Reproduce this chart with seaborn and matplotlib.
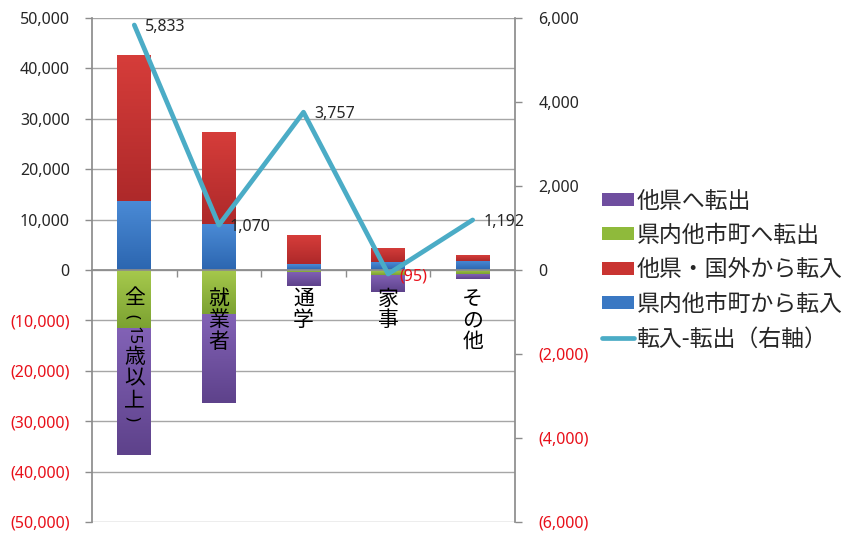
import re
import numpy as np
import seaborn as sns
import matplotlib
matplotlib.use("Agg")
import matplotlib.pyplot as plt
from matplotlib.colors import LinearSegmentedColormap

# ---- data -------------------------------------------------------------
categories = ["全（15歳以上）", "就業者", "通学", "家事", "その他"]

out_to_other_pref = [25267, 17530, 2793, 3495, 958]      # 他県へ転出
out_within_pref = [11500, 8800, 300, 900, 850]           # 県内他市町へ転出
in_from_other_pref = [29000, 18300, 5700, 2800, 1150]    # 他県・国外から転入
in_within_pref = [13600, 9100, 1150, 1500, 1850]         # 県内他市町から転入
net_migration = [5833, 1070, 3757, -95, 1192]            # 転入-転出（右軸）

series_labels = ["他県へ転出", "県内他市町へ転出", "他県・国外から転入",
                 "県内他市町から転入", "転入-転出（右軸）"]

left_ticks = list(range(-50000, 50001, 10000))
right_ticks = list(range(-6000, 6001, 2000))

# ---- style ------------------------------------------------------------
PURPLE = ("#6F4E9F", "#8262B6", "#5E428B")   # base, light top, dark bottom
GREEN = ("#8FBA3B", "#A6C94C", "#7CA232")
RED = ("#C93431", "#D63D3A", "#AE292A")
BLUE = ("#3A78C3", "#4A8AD5", "#2C66B0")
TEAL = "#4BACC6"
GRID = "#A6A6A6"
SPINE = "#8C8C8C"
NEG_RED = "#E8101A"
TEXT = "#262626"

sns.set_theme(style="white")
plt.rcParams["font.family"] = ["Noto Sans", "Noto Sans CJK JP", "DejaVu Sans"]
JP = ["Noto Sans CJK JP", "DejaVu Sans"]
LATIN = ["Noto Sans", "DejaVu Sans"]


def fmt(v):
    return f"{v:,}" if v >= 0 else f"({-v:,})"


fig = plt.figure(figsize=(8.45, 5.33), dpi=100)
ax = fig.add_axes([92 / 845, 11 / 533, 423 / 845, 504 / 533])
ax2 = ax.twinx()

# ---- stacked bars (drawn as overlapping cumulative totals) -----------
pos_total = np.add(in_within_pref, in_from_other_pref)
neg_total = -np.add(out_within_pref, out_to_other_pref)
neg_within = -np.asarray(out_within_pref)
zeros = np.zeros(len(categories))

layers = [  # (heights, colours, label, visible segment bottom, top)
    (pos_total, RED, series_labels[2], np.asarray(in_within_pref), pos_total),
    (in_within_pref, BLUE, series_labels[3], zeros, np.asarray(in_within_pref)),
    (neg_total, PURPLE, series_labels[0], neg_total, neg_within),
    (neg_within, GREEN, series_labels[1], neg_within, zeros),
]

bar_kw = dict(width=0.4, saturation=1, ax=ax, errorbar=None,
              edgecolor="none", linewidth=0, zorder=2)
containers = []
for heights, cols, label, _, _ in layers:
    sns.barplot(x=categories, y=heights, color=cols[0], label=label, **bar_kw)
    containers.append(ax.containers[-1])

# soft vertical shading on each visible segment
grad = np.linspace(0, 1, 64).reshape(-1, 1)
for container, (_, cols, _, seg_lo, seg_hi) in zip(containers, layers):
    cmap = LinearSegmentedColormap.from_list("shade", [cols[2], cols[1]])
    for patch, lo, hi in zip(container.patches, seg_lo, seg_hi):
        if hi <= lo:
            continue
        x0 = patch.get_x()
        im = ax.imshow(grad, cmap=cmap, origin="lower", aspect="auto",
                       extent=(x0, x0 + patch.get_width(), lo, hi),
                       interpolation="bilinear", zorder=2.1)
        im.set_clip_path(patch)

# ---- net migration line on the secondary axis ------------------------
xpos = np.arange(len(categories))
sns.lineplot(x=xpos, y=net_migration, ax=ax2, color=TEAL, lw=3.4,
             label=series_labels[4], zorder=3)
for lg in (ax.get_legend(), ax2.get_legend()):
    if lg is not None:
        lg.remove()

for x, v in zip(xpos, net_migration):
    ax2.annotate(fmt(v), xy=(x, v), xytext=(8, -1.5), textcoords="offset points",
                 ha="left", va="center", fontsize=11.5,
                 color=NEG_RED if v < 0 else TEXT)

# ---- axes ---------------------------------------------------------------
ax.set_xlim(-0.5, len(categories) - 0.5)
ax.set_ylim(left_ticks[0], left_ticks[-1])
ax2.set_ylim(right_ticks[0], right_ticks[-1])
ax.set_xlabel("")
ax.set_ylabel("")
ax2.set_xlabel("")
ax2.set_ylabel("")

ax.set_yticks(left_ticks)
ax.set_yticklabels([fmt(v) for v in left_ticks])
for lab, v in zip(ax.get_yticklabels(), left_ticks):
    lab.set_color(NEG_RED if v < 0 else TEXT)
ax2.set_yticks(right_ticks)
ax2.set_yticklabels([fmt(v) for v in right_ticks])
for lab, v in zip(ax2.get_yticklabels(), right_ticks):
    lab.set_color(NEG_RED if v < 0 else TEXT)

ax.tick_params(axis="y", direction="out", length=5, width=1, color=SPINE,
               pad=11, labelsize=11.5, left=True)
ax2.tick_params(axis="y", direction="out", length=5, width=1, color=SPINE,
                pad=12, labelsize=11.5, right=True)

ax.yaxis.grid(True, color=GRID, lw=1)
ax.xaxis.grid(False)
ax.set_axisbelow(True)

# category axis sits on the zero line, with ticks between the categories
ax.spines["bottom"].set_position(("data", 0))
ax.spines["bottom"].set_color(SPINE)
ax.spines["left"].set_color(SPINE)
ax.spines["top"].set_visible(False)
ax.spines["right"].set_visible(False)
for side in ("top", "bottom", "left"):
    ax2.spines[side].set_visible(False)
ax2.spines["right"].set_color(SPINE)
ax.tick_params(axis="x", which="major", length=0, labelbottom=False)
ax.set_xticks(np.arange(len(categories) - 1) + 0.5, minor=True)
ax.tick_params(axis="x", which="minor", direction="out", length=5,
               width=1, color=SPINE, bottom=True)

# ---- vertically set category names below the zero line -----------------
# Kanji/kana stand upright one per cell; digits and brackets are turned a
# quarter clockwise, as in Japanese vertical typesetting.
CAT_SIZE = 15
CAT_PITCH = 15.5          # points per upright character
SIDE_SIZE = 12
BRACKET_PITCH = 11
renderer = fig.canvas.get_renderer()
to_pt = 72 / fig.dpi
for x, name in zip(xpos, categories):
    name = name.replace("（", "(").replace("）", ")")
    tokens = re.findall(r"\d+|[()]|.", name)
    texts, advances, shifts = [], [], []
    for t in tokens:
        sideways = bool(re.fullmatch(r"\d+|[()]", t))
        if sideways:
            ann = ax.annotate(t, xy=(x, 0), xytext=(0, 0), textcoords="offset points",
                              ha="center", va="baseline", rotation=-90,
                              rotation_mode="anchor", fontsize=SIDE_SIZE,
                              family=LATIN, color="black", zorder=4)
            if t.isdigit():
                length = ann.get_window_extent(renderer=renderer).height * to_pt
                advances.append(length + 2)
            else:
                advances.append(BRACKET_PITCH)
            shifts.append(-0.36 * SIDE_SIZE)
        else:
            ann = ax.annotate(t, xy=(x, 0), xytext=(0, 0), textcoords="offset points",
                              ha="center", va="center", fontsize=CAT_SIZE,
                              family=JP, color="black", zorder=4)
            advances.append(CAT_PITCH)
            shifts.append(0)
        texts.append(ann)
    centre = 20.5
    for i, ann in enumerate(texts):
        if i > 0:
            centre += (advances[i - 1] + advances[i]) / 2
        ann.xyann = (shifts[i], -centre)

# ---- legend -------------------------------------------------------------
h1, l1 = ax.get_legend_handles_labels()
h2, l2 = ax2.get_legend_handles_labels()
lookup = dict(zip(l1 + l2, h1 + h2))
handles = [lookup[s] for s in series_labels]
fig.legend(handles, series_labels, loc="center left",
           bbox_to_anchor=(602 / 845, 1 - 270 / 533), frameon=False,
           borderpad=0, borderaxespad=0, handlelength=1.4, handleheight=0.5,
           handletextpad=0.1, labelspacing=0.5,
           prop={"family": JP, "size": 16.5})

fig.savefig("out.png", dpi=100)
